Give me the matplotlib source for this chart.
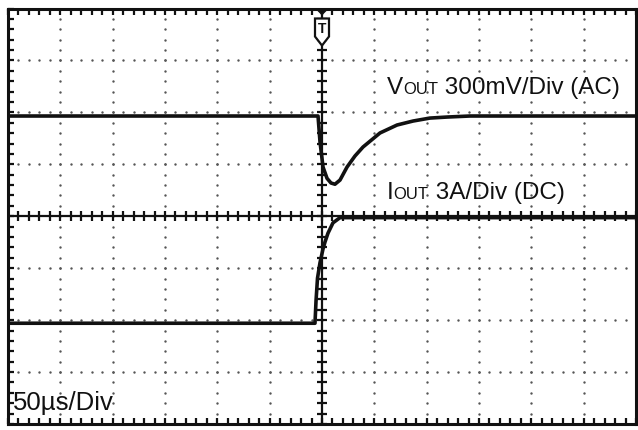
import numpy as np
import matplotlib
matplotlib.use("Agg")
import matplotlib.pyplot as plt
from matplotlib.offsetbox import TextArea, HPacker, AnnotationBbox
from matplotlib.patches import Polygon

# ---- data ----
time_v_us = [-300, -3.8, -1.9, 1.0, 4.8, 8.6, 12.4, 17.2, 23.9, 31.5, 39.2,
             55.4, 71.7, 87, 103, 119.4, 141.4, 300]
vout_mv = [0, 0, -150, -295, -360, -387, -394, -370, -295, -231, -179,
           -98, -52, -29, -12, -6, 0, 0]

time_i_us = [-300, -6.7, -5.7, -4.3, -1.9, 1.0, 2.9, 5.7, 10.5, 17.2, 300]
iout_a = [0, 0, 1.3, 2.6, 3.5, 4.3, 4.7, 5.2, 5.8, 6.1, 6.1]

time_per_div = 50      # us/Div
v_per_div = 300        # mV/Div
i_per_div = 3          # A/Div
n_xdiv, n_ydiv = 12, 8
v_ref_div = 1.93       # Vout reference level, divisions above centre
i_ref_div = -2.06      # Iout zero level, divisions from centre

label_v = ("V", "OUT", " 300mV/Div (AC)")
label_i = ("I", "OUT", " 3A/Div (DC)")
label_t = "50\u00b5s/Div"

# ---- figure ----
W, H = 638, 430
fig = plt.figure(figsize=(W / 100, H / 100), dpi=100)
ax = fig.add_axes([8 / W, 6 / H, 628 / W, 415.5 / H])
xmax = n_xdiv / 2 * time_per_div
ax.set_xlim(-xmax, xmax)
ax.set_ylim(-n_ydiv / 2, n_ydiv / 2)

for s in ax.spines.values():
    s.set_linewidth(2.2)
    s.set_color("#111111")
ax.set_xticks(np.arange(-xmax, xmax + 1, time_per_div))
ax.set_xticks(np.arange(-xmax, xmax + 1, time_per_div / 5), minor=True)
ax.set_yticks(np.arange(-4, 4.01, 1))
ax.set_yticks(np.arange(-4, 4.01, 0.2), minor=True)
ax.tick_params(which="both", direction="in", top=True, right=True,
               labelbottom=False, labelleft=False, length=4, width=1.6,
               color="#111111")

# dotted graticule
dot_x, dot_y = [], []
for k in range(-5, 6):
    if k == 0:
        continue
    xs = k * time_per_div
    for yy in np.arange(-4, 4.01, 0.2):
        dot_x.append(xs); dot_y.append(yy)
for j in range(-3, 4):
    if j == 0:
        continue
    for xx in np.arange(-xmax, xmax + 0.1, time_per_div / 5):
        dot_x.append(xx); dot_y.append(j)
ax.scatter(dot_x, dot_y, s=3.0, color="#555555", linewidths=0, zorder=1)

# centre axes with ticks
ax.axvline(0, color="#111111", lw=1.6, zorder=2)
ax.axhline(0, color="#111111", lw=1.6, zorder=2)
yt = np.arange(-4, 4.01, 0.2)
ax.plot(np.zeros_like(yt), yt, ls="none", marker="_", ms=7, mew=1.6,
        color="#111111", zorder=2)
xt = np.arange(-xmax, xmax + 0.1, time_per_div / 5)
ax.plot(xt, np.zeros_like(xt), ls="none", marker="|", ms=7, mew=1.6,
        color="#111111", zorder=2)

# trigger marker
px_us = time_per_div / 52.33
px_div = 1 / 51.9
top = 4
shield = Polygon([(-7 * px_us, top - 10 * px_div), (7 * px_us, top - 10 * px_div),
                  (7 * px_us, top - 28 * px_div), (0, top - 37 * px_div),
                  (-7 * px_us, top - 28 * px_div)], closed=True,
                 facecolor="white", edgecolor="#111111", lw=1.6, zorder=5)
ax.add_patch(shield)
tri = Polygon([(-6 * px_us, top), (6 * px_us, top), (0, top - 6 * px_div)],
              closed=True, facecolor="#111111", edgecolor="#111111", zorder=5)
ax.add_patch(tri)
ax.text(0, top - 20 * px_div, "T", ha="center", va="center", fontsize=10,
        fontweight="bold", family="Liberation Sans", color="#111111", zorder=6)

# traces
ax_v = ax.twinx()
ax_v.set_ylim(-4 * v_per_div - v_ref_div * v_per_div, 4 * v_per_div - v_ref_div * v_per_div)
ax_i = ax.twinx()
ax_i.set_ylim(-4 * i_per_div - i_ref_div * i_per_div, 4 * i_per_div - i_ref_div * i_per_div)
for a in (ax_v, ax_i):
    a.set_axis_off()
    a.set_xlim(-xmax, xmax)
ax_v.plot(time_v_us, vout_mv, color="#111111", lw=2.6, solid_joinstyle="round")
ax_i.plot(time_i_us, iout_a, color="#111111", lw=2.6, solid_joinstyle="round")

# labels
fam = "Liberation Sans"
big = dict(fontsize=17.5, family=fam, color="#111111")
small = dict(fontsize=12, family=fam, color="#111111")


def label(parts, x, y):
    box = HPacker(children=[TextArea(parts[0], textprops=big),
                            TextArea(parts[1], textprops=small),
                            TextArea(parts[2], textprops=big)],
                  align="baseline", pad=0, sep=0)
    ab = AnnotationBbox(box, (x, y), xycoords="data", frameon=False,
                        box_alignment=(0, 0.5), pad=0)
    ax.add_artist(ab)


label(label_v, 1.24 * time_per_div, (216.3 - 88) / 51.9)
label(label_i, 1.24 * time_per_div, (216.3 - 193) / 51.9)
ax.text(-xmax + 5 * px_us, (216.3 - 403) / 51.9, label_t, ha="left", va="center",
        fontsize=18.5, family=fam, color="#111111")

fig.savefig("out.png", dpi=100)
